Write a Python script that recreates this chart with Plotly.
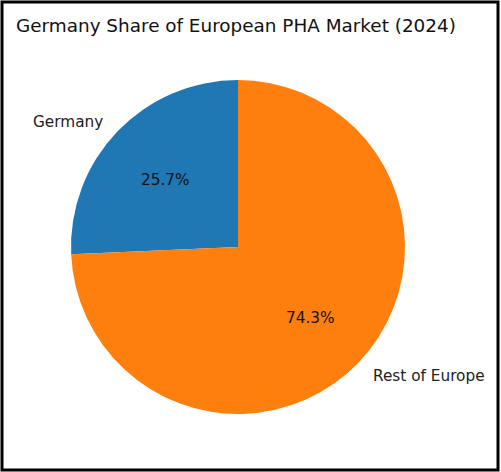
import math
import plotly.graph_objects as go

labels = ["Germany", "Rest of Europe"]
values = [25.7, 74.3]
colors = ["#1f77b4", "#ff7f0e"]

W, H = 501, 472
cx, cy, r = 238.0, 247.0, 167.0

total = sum(values)
first_span = 360.0 * values[0] / total

fig = go.Figure()
fig.add_trace(go.Pie(
    labels=labels, values=values, sort=False, direction="counterclockwise",
    rotation=-first_span, marker=dict(colors=colors, line=dict(width=0)),
    textinfo="none", hoverinfo="label+percent", showlegend=False,
    domain=dict(x=[(cx - r) / W, (cx + r) / W], y=[1 - (cy + r) / H, 1 - (cy - r) / H]),
))

start = 90.0
annotations = []
for lab, v in zip(labels, values):
    span = 360.0 * v / total
    mid = math.radians(start + span / 2)
    start += span
    lx = cx + 1.1 * r * math.cos(mid)
    ly = cy - 1.1 * r * math.sin(mid)
    annotations.append(dict(
        x=lx / W, y=1 - ly / H, xref="paper", yref="paper", text=lab, showarrow=False,
        xanchor="right" if math.cos(mid) < 0 else "left", yanchor="middle", yshift=-2,
        font=dict(family="DejaVu Sans", size=15.3, color="#222222"),
    ))
    px_ = cx + 0.6 * r * math.cos(mid)
    py_ = cy - 0.6 * r * math.sin(mid)
    annotations.append(dict(
        x=px_ / W, y=1 - py_ / H, xref="paper", yref="paper", text=f"{100 * v / total:.1f}%",
        showarrow=False, xanchor="center", yanchor="middle", yshift=-2,
        font=dict(family="DejaVu Sans", size=15.3, color="#111111"),
    ))

annotations.append(dict(
    x=14 / W, y=1 - 25 / H, xref="paper", yref="paper",
    text="Germany Share of European PHA Market (2024)", showarrow=False,
    xanchor="left", yanchor="middle", yshift=-1,
    font=dict(family="DejaVu Sans", size=18.4, color="#111111"),
))

fig.update_layout(
    width=W, height=H, margin=dict(l=0, r=0, t=0, b=0),
    paper_bgcolor="white", plot_bgcolor="white",
    annotations=annotations,
    shapes=[dict(type="rect", xref="paper", yref="paper",
                 x0=2 / W, x1=(W - 3) / W, y0=2 / H, y1=1 - 2 / H,
                 line=dict(color="black", width=3))],
)
fig.write_html("out.html", config={"displayModeBar": False},
               post_script="document.body.style.margin='0';document.body.style.overflow='hidden';")
